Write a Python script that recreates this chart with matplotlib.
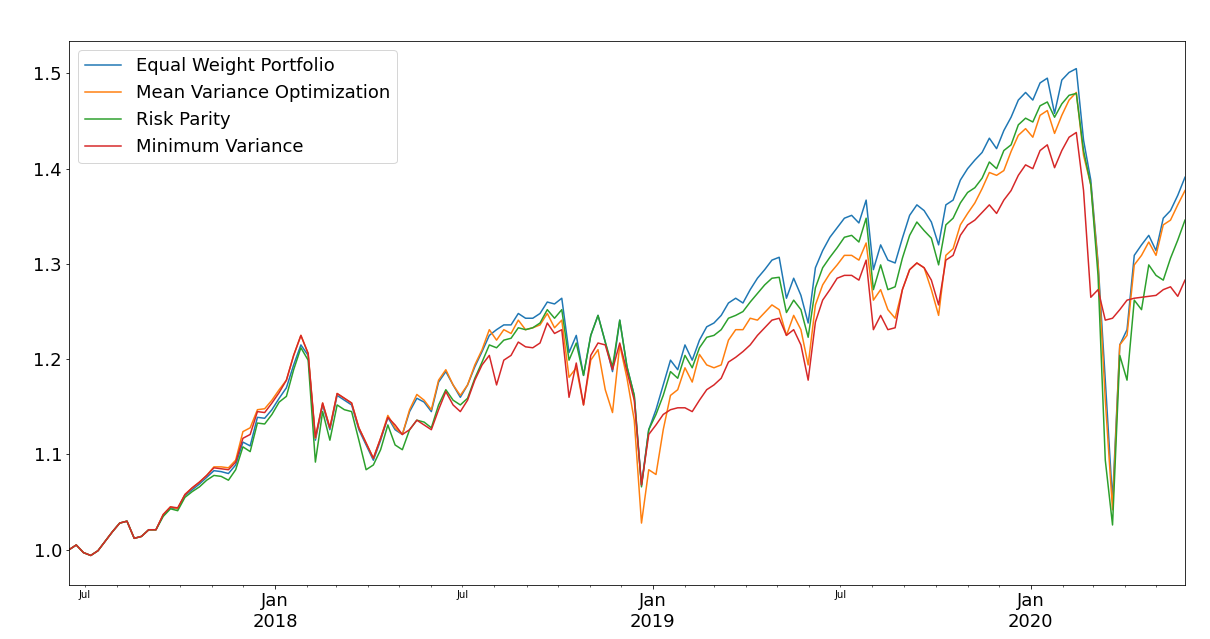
import pandas as pd
import matplotlib.pyplot as plt
import matplotlib.dates as mdates

## dados semanais (sexta-feira), jun/2017 a mai/2020
datas = pd.date_range('2017-06-16', periods=155, freq='W-FRI')

inicio = [1.000, 1.005, 0.997, 0.994, 0.999, 1.009, 1.019, 1.028, 1.030, 1.012,
          1.014, 1.021, 1.021]

equal_weight = inicio + [
    1.036, 1.044, 1.043, 1.057, 1.063, 1.069, 1.076, 1.083, 1.082, 1.080,
    1.089, 1.113, 1.109, 1.139, 1.138, 1.147, 1.159, 1.170, 1.194, 1.215,
    1.204, 1.115, 1.152, 1.126, 1.162, 1.157, 1.152, 1.126, 1.110, 1.094,
    1.115, 1.139, 1.126, 1.121, 1.145, 1.159, 1.155, 1.145, 1.176, 1.187,
    1.173, 1.160, 1.173, 1.192, 1.208, 1.225, 1.231, 1.236, 1.236, 1.248,
    1.243, 1.243, 1.248, 1.260, 1.258, 1.264, 1.207, 1.225, 1.183, 1.225,
    1.246, 1.218, 1.187, 1.241, 1.192, 1.162, 1.068, 1.126, 1.147, 1.173,
    1.199, 1.189, 1.215, 1.199, 1.220, 1.234, 1.238, 1.246, 1.259, 1.264,
    1.259, 1.273, 1.285, 1.294, 1.304, 1.307, 1.264, 1.285, 1.267, 1.238,
    1.296, 1.314, 1.328, 1.338, 1.348, 1.351, 1.343, 1.367, 1.294, 1.320,
    1.304, 1.301, 1.327, 1.351, 1.362, 1.356, 1.344, 1.320, 1.362, 1.367,
    1.388, 1.400, 1.409, 1.417, 1.432, 1.421, 1.440, 1.454, 1.472, 1.480,
    1.472, 1.490, 1.495, 1.458, 1.493, 1.501, 1.505, 1.430, 1.388, 1.302,
    1.178, 1.052, 1.215, 1.231, 1.309, 1.320, 1.330, 1.314, 1.348, 1.356,
    1.372, 1.391]

mean_variance = inicio + [
    1.037, 1.045, 1.043, 1.058, 1.065, 1.071, 1.078, 1.087, 1.087, 1.086,
    1.094, 1.124, 1.128, 1.147, 1.148, 1.157, 1.168, 1.178, 1.204, 1.225,
    1.206, 1.117, 1.154, 1.128, 1.164, 1.159, 1.154, 1.128, 1.112, 1.096,
    1.117, 1.141, 1.128, 1.121, 1.147, 1.163, 1.157, 1.147, 1.178, 1.189,
    1.173, 1.162, 1.173, 1.194, 1.210, 1.231, 1.220, 1.231, 1.227, 1.241,
    1.231, 1.233, 1.236, 1.248, 1.233, 1.241, 1.181, 1.191, 1.152, 1.199,
    1.210, 1.168, 1.144, 1.215, 1.180, 1.136, 1.028, 1.084, 1.079, 1.126,
    1.162, 1.168, 1.191, 1.176, 1.205, 1.194, 1.191, 1.194, 1.220, 1.231,
    1.231, 1.243, 1.241, 1.249, 1.257, 1.252, 1.225, 1.246, 1.231, 1.194,
    1.257, 1.278, 1.290, 1.299, 1.309, 1.309, 1.304, 1.322, 1.262, 1.273,
    1.252, 1.243, 1.273, 1.294, 1.301, 1.296, 1.273, 1.246, 1.309, 1.316,
    1.341, 1.353, 1.364, 1.379, 1.396, 1.393, 1.398, 1.418, 1.435, 1.442,
    1.433, 1.456, 1.461, 1.437, 1.456, 1.472, 1.480, 1.414, 1.383, 1.299,
    1.157, 1.042, 1.215, 1.225, 1.299, 1.309, 1.323, 1.309, 1.341, 1.346,
    1.362, 1.377]

risk_parity = inicio + [
    1.035, 1.043, 1.041, 1.055, 1.061, 1.066, 1.073, 1.078, 1.077, 1.073,
    1.084, 1.108, 1.103, 1.133, 1.132, 1.142, 1.155, 1.161, 1.189, 1.212,
    1.199, 1.092, 1.145, 1.115, 1.152, 1.147, 1.145, 1.115, 1.084, 1.089,
    1.105, 1.131, 1.110, 1.105, 1.126, 1.136, 1.134, 1.128, 1.152, 1.168,
    1.157, 1.152, 1.159, 1.180, 1.197, 1.215, 1.212, 1.220, 1.222, 1.233,
    1.231, 1.233, 1.238, 1.252, 1.243, 1.252, 1.199, 1.217, 1.183, 1.225,
    1.246, 1.218, 1.192, 1.241, 1.192, 1.162, 1.066, 1.126, 1.142, 1.162,
    1.187, 1.180, 1.204, 1.191, 1.212, 1.223, 1.225, 1.231, 1.243, 1.246,
    1.250, 1.260, 1.269, 1.278, 1.285, 1.286, 1.249, 1.262, 1.252, 1.223,
    1.275, 1.296, 1.307, 1.317, 1.328, 1.330, 1.323, 1.348, 1.273, 1.299,
    1.273, 1.276, 1.306, 1.330, 1.344, 1.335, 1.327, 1.299, 1.341, 1.348,
    1.364, 1.375, 1.380, 1.390, 1.407, 1.400, 1.419, 1.425, 1.446, 1.453,
    1.449, 1.466, 1.470, 1.454, 1.468, 1.477, 1.479, 1.419, 1.383, 1.288,
    1.094, 1.026, 1.204, 1.178, 1.262, 1.252, 1.299, 1.288, 1.283, 1.306,
    1.325, 1.346]

min_variance = inicio + [
    1.037, 1.045, 1.044, 1.058, 1.065, 1.071, 1.078, 1.086, 1.085, 1.084,
    1.092, 1.117, 1.121, 1.145, 1.144, 1.154, 1.165, 1.178, 1.204, 1.225,
    1.206, 1.118, 1.154, 1.128, 1.164, 1.159, 1.154, 1.128, 1.112, 1.096,
    1.117, 1.139, 1.131, 1.121, 1.126, 1.136, 1.131, 1.126, 1.147, 1.166,
    1.152, 1.145, 1.157, 1.178, 1.194, 1.204, 1.173, 1.199, 1.204, 1.218,
    1.213, 1.212, 1.217, 1.238, 1.227, 1.231, 1.160, 1.196, 1.152, 1.204,
    1.217, 1.215, 1.189, 1.217, 1.187, 1.157, 1.068, 1.121, 1.131, 1.142,
    1.147, 1.149, 1.149, 1.145, 1.157, 1.168, 1.173, 1.180, 1.197, 1.202,
    1.208, 1.215, 1.225, 1.233, 1.241, 1.243, 1.225, 1.231, 1.215, 1.178,
    1.239, 1.262, 1.273, 1.285, 1.288, 1.288, 1.283, 1.304, 1.231, 1.246,
    1.231, 1.233, 1.273, 1.294, 1.301, 1.296, 1.283, 1.257, 1.304, 1.309,
    1.330, 1.341, 1.346, 1.354, 1.362, 1.353, 1.367, 1.377, 1.393, 1.404,
    1.400, 1.419, 1.425, 1.401, 1.419, 1.433, 1.438, 1.377, 1.265, 1.273,
    1.241, 1.243, 1.252, 1.262, 1.264, 1.265, 1.266, 1.267, 1.273, 1.276,
    1.266, 1.283]

df = pd.DataFrame({
    'Equal Weight Portfolio': equal_weight,
    'Mean Variance Optimization': mean_variance,
    'Risk Parity': risk_parity,
    'Minimum Variance': min_variance,
}, index=datas)

## gráfico
fig = plt.figure(figsize=(1210 / 72, 639 / 72), dpi=72)
ax = fig.add_axes([69 / 1210, 1 - 585 / 639, (1185 - 69) / 1210, (585 - 41) / 639])
for col in df.columns:
    ax.plot(df.index, df[col], label=col, linewidth=1.5)

ax.set_xlim(df.index[0], df.index[-1])
ax.set_ylim(0.963, 1.534)
ax.set_yticks([1.0, 1.1, 1.2, 1.3, 1.4, 1.5])
ax.tick_params(axis='y', labelsize=18)

ax.xaxis.set_major_locator(mdates.YearLocator())
ax.xaxis.set_major_formatter(mdates.DateFormatter('%b\n%Y'))
ax.xaxis.set_minor_locator(mdates.MonthLocator())
ax.xaxis.set_minor_formatter(
    plt.FuncFormatter(lambda x, pos: 'Jul' if mdates.num2date(x).month == 7 else ''))
ax.tick_params(axis='x', which='major', labelsize=18)
ax.tick_params(axis='x', which='minor', labelsize=10)

ax.legend(loc='upper left', fontsize=18)
fig.savefig('out.png', dpi=72)
